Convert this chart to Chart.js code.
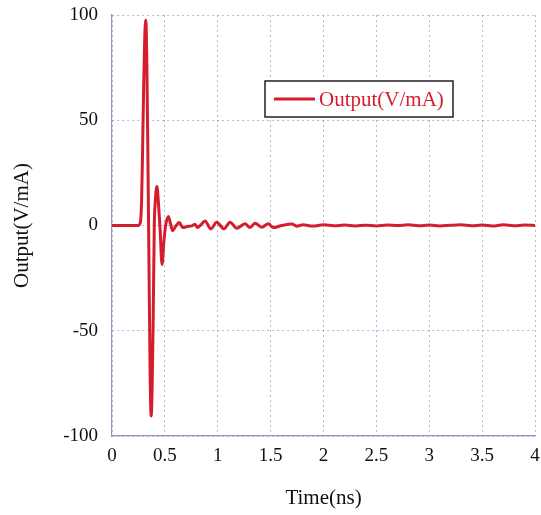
<!DOCTYPE html>
<html lang="en">
<head>
    <meta charset="UTF-8">
    <title>Output(V/mA)</title>
    <style>
        html, body { margin: 0; padding: 0; background: #fff; }
        #box { width: 541px; height: 515px; }
    </style>
</head>
<body>
    <div id="box">
        <canvas id="grafico1"></canvas>
    </div>

    <script src="https://cdn.jsdelivr.net/npm/chart.js"></script>

    <script>
        // data
        const seriesLabel = 'Output(V/mA)'
        const timeNs = [0, 0.25, 0.26, 0.27, 0.28, 0.29, 0.30, 0.31, 0.32, 0.33, 0.34, 0.35, 0.36, 0.37, 0.38, 0.39, 0.40,
            0.41, 0.425, 0.44, 0.455, 0.473, 0.49, 0.507, 0.533, 0.555, 0.574, 0.60, 0.636, 0.669, 0.712, 0.754, 0.785,
            0.807, 0.84, 0.879, 0.936, 0.99, 1.059, 1.116, 1.179, 1.258, 1.305, 1.352, 1.416, 1.478, 1.525, 1.605, 1.70,
            1.747, 1.806, 1.9, 2.0, 2.1, 2.2, 2.3, 2.4, 2.5, 2.6, 2.7, 2.8, 2.9, 3.0, 3.1, 3.2, 3.3, 3.4, 3.5, 3.6, 3.7,
            3.8, 3.9, 4.0]
        const outputVmA = [0, 0, 0.5, 2, 12, 38, 68, 90, 97.5, 75, 30, -20, -68, -90.5, -76, -42, 0,
            12, 18.5, 10, -2, -18.5, -8, 0, 4.3, 0.5, -2.5, -0.5, 1.4, -1.0, -0.5, -0.2, 0.6,
            -1.0, 0.3, 2.1, -1.6, 1.6, -1.6, 1.6, -1.3, 0.8, -1.0, 1.1, -0.8, 0.8, -1.0, 0, 0.7,
            -0.3, 0.3, -0.2, 0.3, -0.1, 0.2, -0.2, 0.1, -0.2, 0.2, 0, 0.3, -0.1, 0.2, -0.2, 0.1, 0.3, -0.1, 0.2, -0.2, 0.3,
            -0.1, 0.2, 0]
        const xTickStep = 0.5
        const yTickStep = 50

        const vermelho = 'rgb(212,30,45)'
        const corGrade = 'rgba(125,135,200,0.6)'
        const fonte = 'Liberation Serif'

        // legend drawn inside the plot, boxed
        const legendaDentro = {
            id: 'legendaDentro',
            afterDraw(chart) {
                const ctx = chart.ctx
                const a = chart.chartArea
                const ds = chart.data.datasets[0]
                const x0 = a.left + 153, y0 = a.top + 66, w = 188, h = 36
                ctx.save()
                ctx.fillStyle = '#fff'
                ctx.fillRect(x0, y0, w, h)
                ctx.strokeStyle = '#222'
                ctx.lineWidth = 1.5
                ctx.strokeRect(x0, y0, w, h)
                ctx.strokeStyle = ds.borderColor
                ctx.lineWidth = 3
                ctx.beginPath()
                ctx.moveTo(x0 + 9, y0 + h / 2)
                ctx.lineTo(x0 + 50, y0 + h / 2)
                ctx.stroke()
                ctx.fillStyle = ds.borderColor
                ctx.font = '21px "' + fonte + '"'
                ctx.textBaseline = 'middle'
                ctx.fillText(ds.label, x0 + 54, y0 + h / 2 + 1)
                ctx.restore()
            }
        }

        const ctx = document.getElementById('grafico1')

        let grafico1 = new Chart(ctx, {
            type: 'line',
            data: {
                datasets: [{
                    label: seriesLabel,
                    data: timeNs.map((t, i) => ({ x: t, y: outputVmA[i] })),
                    borderColor: vermelho,
                    borderWidth: 3,
                    pointRadius: 0,
                    cubicInterpolationMode: 'monotone'
                }]
            },
            options: {
                responsive: true,
                maintainAspectRatio: false,
                animation: false,
                layout: { padding: { top: 15, right: 6, left: 0, bottom: 0 } },
                plugins: {
                    legend: { display: false },
                    tooltip: { enabled: false }
                },
                scales: {
                    x: {
                        type: 'linear',
                        min: 0,
                        max: 4,
                        ticks: {
                            stepSize: xTickStep, color: '#111', font: { family: fonte, size: 19 }, padding: 9, maxRotation: 0,
                            callback: v => String(v)
                        },
                        grid: { color: corGrade, lineWidth: 1, drawTicks: false },
                        border: { color: 'rgb(140,150,205)', width: 1.2, dash: [2, 3] },
                        title: { display: true, text: 'Time(ns)', color: '#111', font: { family: fonte, size: 21 }, padding: { top: 0, bottom: 4 } },
                        afterFit: s => { s.height = 79; s.paddingLeft = 0; s.paddingRight = 0 }
                    },
                    y: {
                        min: -100,
                        max: 100,
                        ticks: { stepSize: yTickStep, color: '#111', font: { family: fonte, size: 19 }, padding: 14 },
                        grid: { color: corGrade, lineWidth: 1, drawTicks: false },
                        border: { color: 'rgb(140,150,205)', width: 1.2, dash: [2, 3] },
                        title: { display: true, text: 'Output(V/mA)', color: '#111', font: { family: fonte, size: 21 }, padding: { top: 10, bottom: 0 } },
                        afterFit: s => { s.width = 112; s.paddingTop = 0; s.paddingBottom = 0 }
                    }
                }
            },
            plugins: [legendaDentro]
        })
    </script>
</body>
</html>
